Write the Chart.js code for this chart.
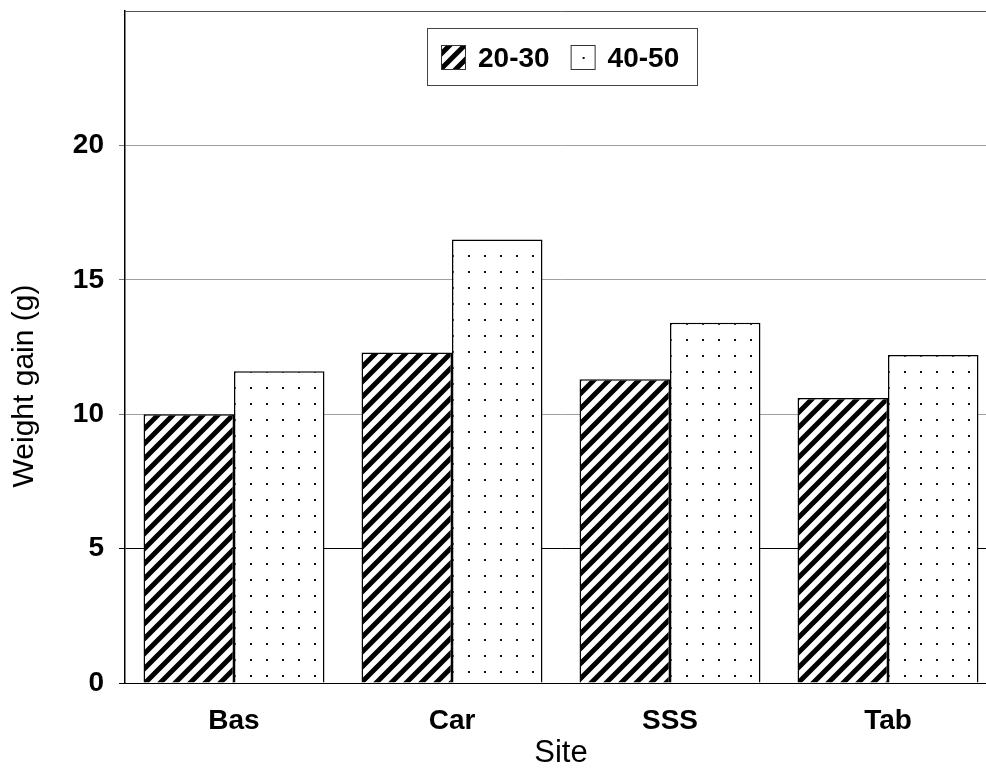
<!DOCTYPE html>
<html><head><meta charset="utf-8">
<script src="https://cdn.jsdelivr.net/npm/chart.js@4.4.1/dist/chart.umd.min.js"></script>
<style>html,body{margin:0;padding:0;background:#fff;overflow:hidden;width:986px;height:772px}canvas{display:block}</style>
</head><body>
<canvas id="c" width="1000" height="772" style="width:1000px;height:772px"></canvas>
<script>
// ---- data ----
const categories = ['Bas', 'Car', 'SSS', 'Tab'];
const seriesNames = ['20-30', '40-50'];
const gain2030 = [10.0, 12.3, 11.3, 10.6];
const gain4050 = [11.6, 16.5, 13.4, 12.2];
const yAxisMax = 25;
const yStep = 5;
const xTitle = 'Site';
const yTitle = 'Weight gain (g)';

// ---- styling ----
const FONT = "'Liberation Sans', Arial, Helvetica, sans-serif";
const CAT_PCT = 0.83;

function stripeTile() {
  const c = document.createElement('canvas'); c.width = 15; c.height = 15;
  const g = c.getContext('2d');
  g.fillStyle = '#fff'; g.fillRect(0, 0, 15, 15);
  g.strokeStyle = '#000'; g.lineWidth = 5;
  g.beginPath();
  g.moveTo(-5, 5); g.lineTo(5, -5);
  g.moveTo(0, 15); g.lineTo(15, 0);
  g.moveTo(10, 20); g.lineTo(20, 10);
  g.stroke();
  return c;
}
function dotTile() {
  const c = document.createElement('canvas'); c.width = 16; c.height = 16;
  const g = c.getContext('2d');
  g.fillStyle = '#fff'; g.fillRect(0, 0, 16, 16);
  g.fillStyle = '#111'; g.fillRect(0, 0, 2, 2);
  return c;
}
const tiles = { stripe: stripeTile(), dot: dotTile() };
function makePattern(ctx, kind, x, y) {
  const p = ctx.createPattern(tiles[kind], 'repeat');
  if (p.setTransform) p.setTransform(new DOMMatrix().translate(x, y));
  return p;
}
function barFill(kind, dsIndex) {
  return (c) => {
    const chart = c.chart;
    if (c.type !== 'data' || !chart.scales || !chart.scales.x) return makePattern(chart.ctx, kind, 0, 0);
    const xs = chart.scales.x, ys = chart.scales.y;
    const center = xs.getPixelForValue(c.dataIndex);
    const bw = (xs.width / categories.length) * CAT_PCT / 2;
    const left = dsIndex === 0 ? center - bw : center;
    const top = ys.getPixelForValue(c.raw);
    return makePattern(chart.ctx, kind, Math.round(left), Math.round(top));
  };
}
const kinds = ['stripe', 'dot'];

const boxLegend = {
  id: 'boxLegend',
  afterDraw(chart) {
    const ctx = chart.ctx;
    ctx.save();
    const bx = 427, by = 28, bw = 270, bh = 57;
    ctx.fillStyle = '#fff';
    ctx.fillRect(bx, by, bw, bh);
    ctx.strokeStyle = '#444'; ctx.lineWidth = 1;
    ctx.strokeRect(bx + 0.5, by + 0.5, bw, bh);
    ctx.font = 'bold 28px ' + FONT;
    ctx.textBaseline = 'middle';
    let x = 441;
    const sy = 45, sz = 25;
    chart.data.datasets.forEach((ds, i) => {
      ctx.fillStyle = makePattern(ctx, kinds[i], x + 12, sy + 12);
      ctx.fillRect(x, sy, sz, sz);
      ctx.strokeStyle = '#333';
      ctx.strokeRect(x + 0.5, sy + 0.5, sz - 1, sz - 1);
      ctx.fillStyle = '#000';
      const tx = x + sz + 12;
      ctx.fillText(ds.label, tx, 59);
      x = tx + ctx.measureText(ds.label).width + 21;
    });
    ctx.restore();
  }
};

// y-axis title, centred on the full figure height as in the reference
const yTitlePlugin = {
  id: 'yTitle',
  afterDraw(chart) {
    const ctx = chart.ctx;
    ctx.save();
    ctx.translate(25, chart.height / 2);
    ctx.rotate(-Math.PI / 2);
    ctx.font = '30px ' + FONT;
    ctx.fillStyle = '#000';
    ctx.textAlign = 'center';
    ctx.textBaseline = 'middle';
    ctx.fillText(yTitle, 0, 0);
    ctx.restore();
  }
};

new Chart(document.getElementById('c'), {
  type: 'bar',
  data: {
    labels: categories,
    datasets: [
      { label: seriesNames[0], data: gain2030, backgroundColor: barFill('stripe', 0), borderColor: '#000', borderWidth: 1.5 },
      { label: seriesNames[1], data: gain4050, backgroundColor: barFill('dot', 1), borderColor: '#000', borderWidth: 1.5 }
    ]
  },
  options: {
    responsive: false,
    animation: false,
    devicePixelRatio: 1,
    layout: { padding: { top: 11, right: 3, left: 0, bottom: 0 } },
    datasets: { bar: { categoryPercentage: CAT_PCT, barPercentage: 1 } },
    plugins: { legend: { display: false }, tooltip: { enabled: false } },
    scales: {
      x: {
        grid: { display: false, drawTicks: false, tickLength: 0 },
        border: { display: true, color: '#000', width: 1 },
        ticks: { color: '#000', font: { family: FONT, size: 28, weight: 'bold' }, padding: 21 },
        title: { display: true, text: xTitle, color: '#000', font: { family: FONT, size: 31 }, padding: { top: 0, bottom: 0 } },
        afterFit(s) { s.height = 89; s.paddingLeft = 0; s.paddingRight = 0; }
      },
      y: {
        min: 0, max: yAxisMax,
        grid: {
          color: (c) => {
            const v = c.tick ? c.tick.value : null;
            if (v === 0 || v === 5) return '#000';
            if (v === yAxisMax) return '#555';
            return '#a0a0a0';
          },
          tickColor: (c) => {
            const v = c.tick ? c.tick.value : null;
            if (v === yAxisMax) return 'rgba(0,0,0,0)';
            if (v === 0 || v === 5) return '#000';
            return '#777';
          },
          tickLength: 6, lineWidth: 1
        },
        border: { display: true, color: '#000', width: 1.5 },
        ticks: {
          stepSize: yStep, color: '#000', padding: 15,
          font: { family: FONT, size: 28, weight: 'bold' },
          callback: (v) => (v === yAxisMax ? '' : v)
        },
        title: { display: false, text: yTitle },
        afterFit(s) { s.width = 125; s.paddingTop = 0; s.paddingBottom = 0; }
      }
    }
  },
  plugins: [boxLegend, yTitlePlugin]
});
</script>
</body></html>
